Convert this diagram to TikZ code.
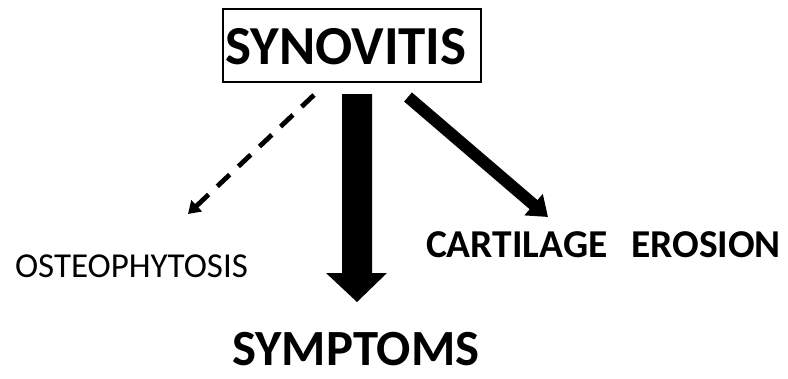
\documentclass[tikz,border=0pt]{standalone}
\usepackage{fontspec}
\setmainfont{Carlito}
\usetikzlibrary{arrows.meta}
\begin{document}
\begin{tikzpicture}[x=1pt,y=-1pt,
  lbl/.style={inner sep=0pt,anchor=base},
  titlebox/.style={draw,line width=1.3pt,minimum width=258pt,minimum height=73pt,inner sep=0pt},
  dasharrow/.style={line width=4.8pt,dash pattern=on 17pt off 12pt,-{Triangle[length=12pt,width=15pt]}},
  boldarrow/.style={line width=12pt,-{Triangle[length=19pt,width=27pt]}},
  fatarrow/.style={fill=black}]
\useasboundingbox (0,0) rectangle (788,378);
\node[titlebox] (syn) at (352,45.5) {};
\node[lbl,font=\bfseries\fontsize{55}{64}\selectfont] (syntext) at (346,64) {SYNOVITIS};
\node[lbl,font=\fontsize{35}{42}\selectfont] (osteo) at (131.5,277) {OSTEOPHYTOSIS};
\node[lbl,font=\bfseries\fontsize{39.5}{46}\selectfont] (cart) at (603.5,257) {CARTILAGE\hspace{0.6em}EROSION};
\node[lbl,font=\bfseries\fontsize{50.7}{60}\selectfont] (symp) at (356,365) {SYMPTOMS};
\coordinate (d1) at (314,95);
\coordinate (d2) at (188,214);
\coordinate (r1) at (408,97);
\coordinate (r2) at (548,217);
\draw[dasharrow] (d1) -- (d2);
\draw[boldarrow] (r1) -- (r2);
\fill[fatarrow] (342,94) -- (372,94) -- (372,273) -- (387,273) -- (357,302) -- (326,273) -- (342,273) -- cycle;
\end{tikzpicture}
\end{document}
